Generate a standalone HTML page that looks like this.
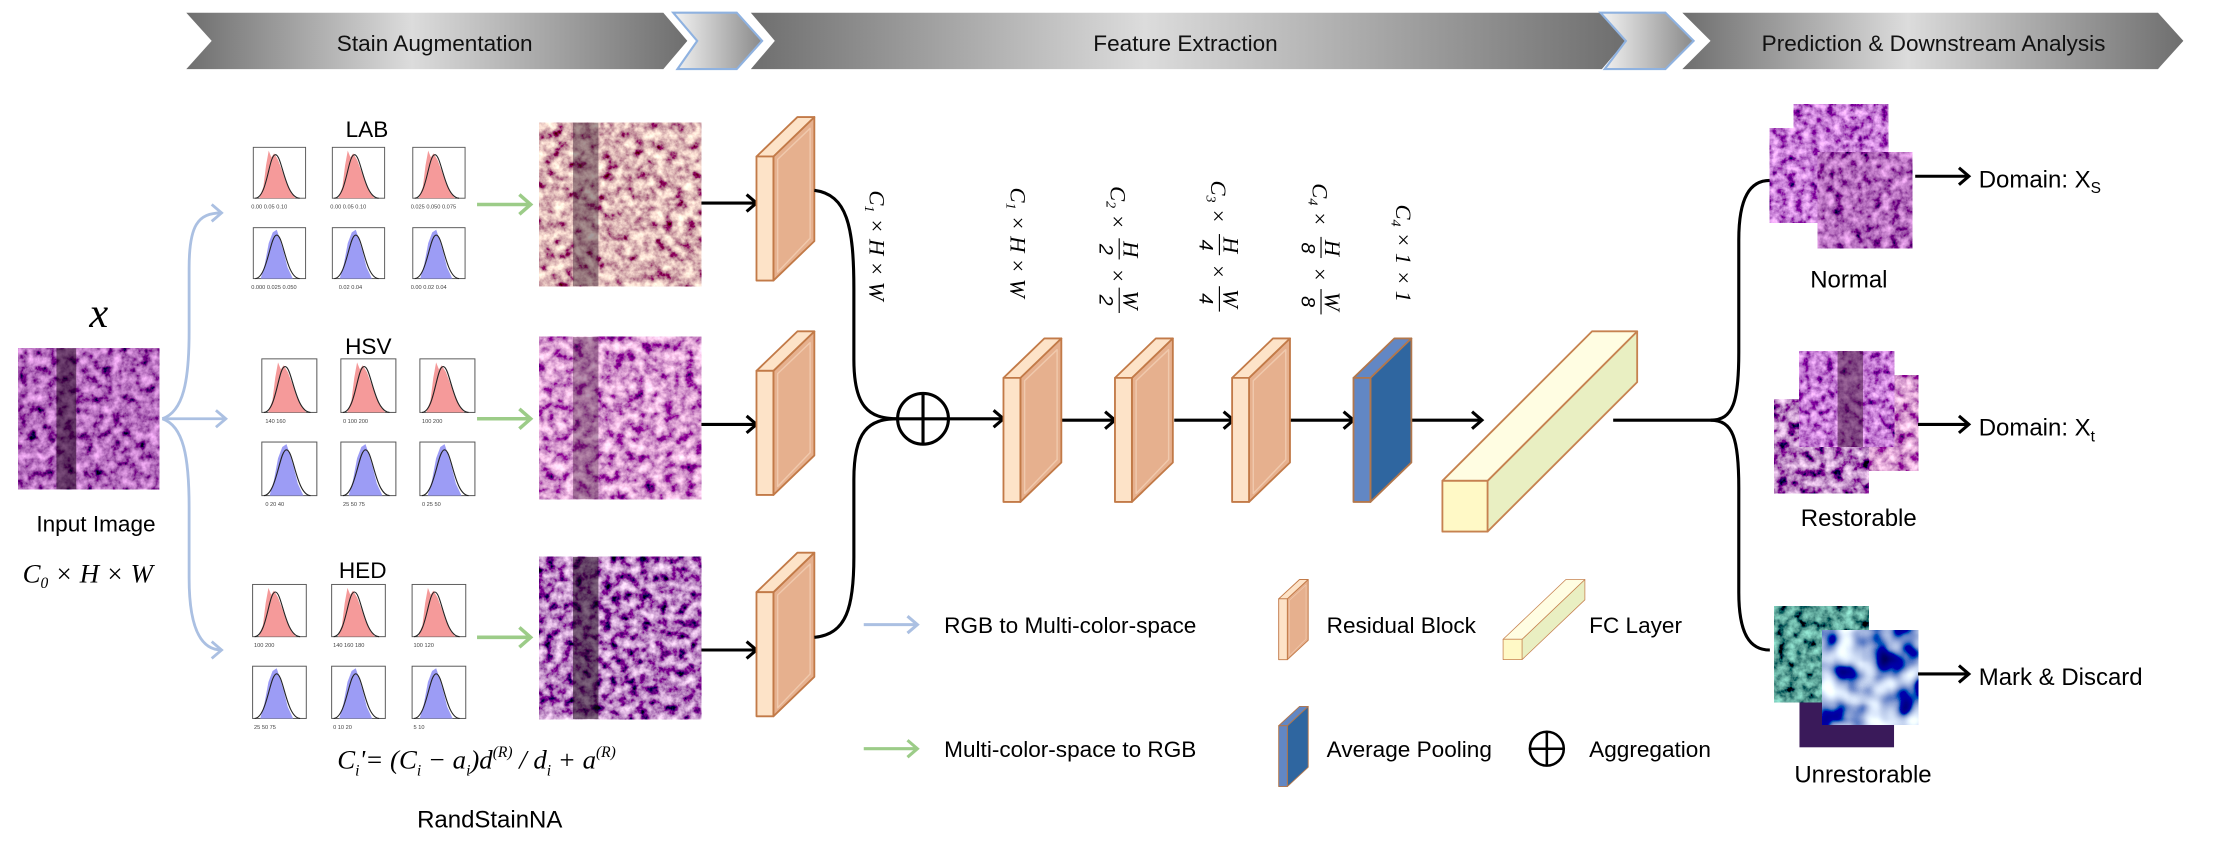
<!DOCTYPE html>
<html><head><meta charset="utf-8"><style>
html,body{margin:0;padding:0;background:#fff;}
svg{display:block;}
text{font-family:"Liberation Sans",sans-serif;}
.s{font-family:"Liberation Serif",serif;font-style:italic;}
</style></head><body>
<svg width="2213" height="846" viewBox="0 0 1568 600" preserveAspectRatio="none" xmlns="http://www.w3.org/2000/svg">
<defs>
<linearGradient id="bn" x1="0" x2="1" y1="0" y2="0">
<stop offset="0" stop-color="#6e6e6e"/><stop offset="0.45" stop-color="#dcdcdc"/><stop offset="1" stop-color="#6e6e6e"/></linearGradient>
<linearGradient id="sm" x1="0" x2="1"><stop offset="0" stop-color="#f4f4f4"/><stop offset="1" stop-color="#8a8a8a"/></linearGradient>
<filter id="tl" x="0" y="0" width="1" height="1"><feTurbulence type="fractalNoise" baseFrequency="0.14" numOctaves="4" seed="7"/>
<feColorMatrix type="matrix" values="1.8 0 0 0 -0.2  2.0 0 0 0 -0.55  1.4 0 0 0 -0.25  0 0 0 0 1"/></filter>
<filter id="tm" x="0" y="0" width="1" height="1"><feTurbulence type="fractalNoise" baseFrequency="0.14" numOctaves="4" seed="11"/>
<feColorMatrix type="matrix" values="1.8 0 0 0 -0.25  1.6 0 0 0 -0.5  1.4 0 0 0 -0.1  0 0 0 0 1"/></filter>
<filter id="td" x="0" y="0" width="1" height="1"><feTurbulence type="fractalNoise" baseFrequency="0.15" numOctaves="4" seed="5"/>
<feColorMatrix type="matrix" values="1.8 0 0 0 -0.45  1.7 0 0 0 -0.65  1.6 0 0 0 -0.3  0 0 0 0 1"/></filter>
<filter id="th" x="0" y="0" width="1" height="1"><feTurbulence type="fractalNoise" baseFrequency="0.15" numOctaves="4" seed="9"/>
<feColorMatrix type="matrix" values="1.5 0 0 0 -0.3  0.9 0 0 0 -0.3  1.4 0 0 0 -0.2  0 0 0 0 1"/></filter>
<filter id="tn" x="0" y="0" width="1" height="1"><feTurbulence type="fractalNoise" baseFrequency="0.18" numOctaves="4" seed="13"/>
<feColorMatrix type="matrix" values="1.6 0 0 0 -0.25  1.1 0 0 0 -0.35  1.5 0 0 0 -0.1  0 0 0 0 1"/></filter>
<filter id="tg" x="0" y="0" width="1" height="1"><feTurbulence type="fractalNoise" baseFrequency="0.15" numOctaves="4" seed="2"/>
<feColorMatrix type="matrix" values="0.6 0 0 0 -0.2  1.4 0 0 0 -0.35  1.1 0 0 0 -0.25  0 0 0 0 1"/></filter>
<filter id="tb" x="0" y="0" width="1" height="1"><feTurbulence type="fractalNoise" baseFrequency="0.05" numOctaves="2" seed="4"/>
<feColorMatrix type="matrix" values="3 0 0 0 -1.2  3 0 0 0 -1.1  2 0 0 0 -0.3  0 0 0 0 1"/></filter>
<symbol id="hr" viewBox="0 0 40 40"><rect x="0.5" y="0.5" width="39" height="38" fill="#fff" stroke="#555" stroke-width="0.7"/>
<path d="M5,38.5 L8,30 L10,14 L12,3 L14,8 L16,5 L19,10 L22,18 L25,27 L29,35 L32,38.5Z" fill="#f59a9a"/>
<path d="M2,38.5 C11,38 12,6 17,6 C22,6 24,38 35,38.5" fill="none" stroke="#222" stroke-width="0.8"/></symbol>
<symbol id="hb" viewBox="0 0 40 40"><rect x="0.5" y="0.5" width="39" height="38" fill="#fff" stroke="#555" stroke-width="0.7"/>
<path d="M6,38.5 L9,28 L12,12 L15,4 L18,2 L20,8 L23,18 L26,30 L30,38.5Z" fill="#9c9cf5"/>
<path d="M2,38.5 C11,38 13,6 18,6 C23,6 25,38 35,38.5" fill="none" stroke="#222" stroke-width="0.8"/></symbol>
<g id="rb" stroke="#c27a48" stroke-width="1.3" stroke-linejoin="round">
<polygon points="12,28 41,0 41,88 12,116" fill="#e6b08e"/>
<polygon points="15,30 38,8 38,86 15,110" fill="none" stroke="#f0c9ad" stroke-width="1"/>
<polygon points="0,28 12,28 41,0 29,0" fill="#fde3c8"/>
<rect x="0" y="28" width="12" height="88" fill="#fde3c8"/></g>
<g id="ab" stroke="#b2774c" stroke-width="1.3" stroke-linejoin="round">
<polygon points="12,28 41,0 41,88 12,116" fill="#2f66a0"/>
<polygon points="0,28 12,28 41,0 29,0" fill="#6287c4"/>
<rect x="0" y="28" width="12" height="88" fill="#6287c4"/></g>
<g id="fc" stroke="#c68250" stroke-width="1.3" stroke-linejoin="round">
<polygon points="32,106 138,0 138,36 32,142" fill="#e9efc2"/>
<polygon points="0,106 32,106 138,0 106,0" fill="#fffde2"/>
<rect x="0" y="106" width="32" height="36" fill="#fff9c6"/></g>
</defs>

<!-- banner -->
<polygon points="132,9 470,9 487,29 470,49 132,49 150,29" fill="url(#bn)"/>
<polygon points="477,9 522,9 540,29 522,49 480,49 494,29" fill="url(#sm)" stroke="#8fb2e0" stroke-width="1.5"/>
<polygon points="532,9 1135,9 1152,29 1135,49 532,49 549,29" fill="url(#bn)"/>
<polygon points="1134,9 1180,9 1200,29 1180,49 1137,49 1152,29" fill="url(#sm)" stroke="#8fb2e0" stroke-width="1.5"/>
<polygon points="1192,9 1529,9 1547,29 1529,49 1192,49 1212,29" fill="url(#bn)"/>
<text x="308" y="36" font-size="16" text-anchor="middle" fill="#111">Stain Augmentation</text>
<text x="840" y="36" font-size="16" text-anchor="middle" fill="#111">Feature Extraction</text>
<text x="1370" y="36" font-size="16" text-anchor="middle" fill="#111">Prediction &amp; Downstream Analysis</text>

<!-- input -->
<text x="70" y="232" class="s" font-size="30" text-anchor="middle">x</text>
<rect x="13" y="247" width="100" height="100" filter="url(#th)"/>
<rect x="40" y="247" width="14" height="100" fill="#1a0018" opacity="0.55"/>
<text x="68" y="377" font-size="16" text-anchor="middle">Input Image</text>
<text x="16" y="413" class="s" font-size="19">C<tspan font-size="11" dy="4">0</tspan><tspan dy="-4"> × H × W</tspan></text>

<!-- blue arrows -->
<g fill="none" stroke="#abc0e2" stroke-width="2">
<path d="M115,297 C130,292 134,270 134,235 L134,190 C134,160 140,151 157,151"/>
<path d="M115,297 L160,297"/>
<path d="M115,297 C130,302 134,324 134,360 L134,410 C134,440 140,461 157,461"/>
<polyline points="150,145 157,151 150,157"/><polyline points="153,291 160,297 153,303"/><polyline points="150,455 157,461 150,467"/>
</g>

<!-- histograms -->
<text x="260" y="97" font-size="16" text-anchor="middle">LAB</text>
<use href="#hr" x="178" y="104" width="40" height="38"/><use href="#hr" x="234" y="104" width="40" height="38"/><use href="#hr" x="291" y="104" width="40" height="38"/>
<use href="#hb" x="178" y="161" width="40" height="38"/><use href="#hb" x="234" y="161" width="40" height="38"/><use href="#hb" x="291" y="161" width="40" height="38"/>
<text x="261" y="251" font-size="16" text-anchor="middle">HSV</text>
<use href="#hr" x="185" y="254" width="40" height="40"/><use href="#hr" x="241" y="254" width="40" height="40"/><use href="#hr" x="297" y="254" width="40" height="40"/>
<use href="#hb" x="185" y="313" width="40" height="40"/><use href="#hb" x="241" y="313" width="40" height="40"/><use href="#hb" x="297" y="313" width="40" height="40"/>
<text x="257" y="410" font-size="16" text-anchor="middle">HED</text>
<use href="#hr" x="178" y="414" width="40" height="39"/><use href="#hr" x="234" y="414" width="40" height="39"/><use href="#hr" x="291" y="414" width="40" height="39"/>
<use href="#hb" x="178" y="472" width="40" height="39"/><use href="#hb" x="234" y="472" width="40" height="39"/><use href="#hb" x="291" y="472" width="40" height="39"/>
<g fill="#444" font-size="4">
<text x="178" y="148">0.00 0.05 0.10</text><text x="234" y="148">0.00 0.05 0.10</text><text x="291" y="148">0.025 0.050 0.075</text>
<text x="178" y="205">0.000 0.025 0.050</text><text x="240" y="205">0.02  0.04</text><text x="291" y="205">0.00 0.02 0.04</text>
<text x="188" y="300">140  160</text><text x="243" y="300">0 100 200</text><text x="299" y="300">100  200</text>
<text x="188" y="359">0  20  40</text><text x="243" y="359">25 50 75</text><text x="299" y="359">0 25 50</text>
<text x="180" y="459">100  200</text><text x="236" y="459">140 160 180</text><text x="293" y="459">100  120</text>
<text x="180" y="517">25  50  75</text><text x="236" y="517">0  10  20</text><text x="293" y="517">5  10</text>
</g>

<!-- green arrows -->
<g fill="none" stroke="#9ccc88" stroke-width="2.5">
<path d="M338,145 L376,145"/><polyline points="368,138 376,145 368,152"/>
<path d="M338,297 L376,297"/><polyline points="368,290 376,297 368,304"/>
<path d="M338,452 L376,452"/><polyline points="368,445 376,452 368,459"/>
</g>

<!-- augmented images -->
<rect x="382" y="87" width="115" height="116" filter="url(#tl)"/>
<rect x="406" y="87" width="18" height="116" fill="#3a2030" opacity="0.45"/>
<rect x="382" y="239" width="115" height="115" filter="url(#tm)"/>
<rect x="406" y="239" width="18" height="115" fill="#4a2040" opacity="0.4"/>
<rect x="382" y="395" width="115" height="115" filter="url(#td)"/>
<rect x="406" y="395" width="18" height="115" fill="#1a0818" opacity="0.55"/>

<!-- black arrows to blocks -->
<g fill="none" stroke="#000" stroke-width="2.2">
<path d="M497,144 L536,144"/><polyline points="529,138 536,144 529,150"/>
<path d="M497,301 L536,301"/><polyline points="529,295 536,301 529,307"/>
<path d="M497,461 L536,461"/><polyline points="529,455 536,461 529,467"/>
</g>
<use href="#rb" x="536" y="83"/><use href="#rb" x="536" y="235"/><use href="#rb" x="536" y="392"/>

<g fill="none" stroke="#000" stroke-width="2.2">
<path d="M577,135 C600,138 605,160 605,205 L605,255 C605,288 615,297 636,297"/>
<path d="M577,452 C600,450 605,430 605,395 L605,340 C605,306 615,297 636,297"/>
<circle cx="654" cy="297" r="18"/>
<path d="M636,297 L672,297 M654,279 L654,315"/>
<path d="M672,297 L711,297"/><polyline points="704,291 711,297 704,303"/>
<path d="M752,298 L790,298"/><polyline points="783,292 790,298 783,304"/>
<path d="M832,298 L874,298"/><polyline points="867,292 874,298 867,304"/>
<path d="M914,298 L959,298"/><polyline points="952,292 959,298 952,304"/>
<path d="M1000,298 L1050,298"/><polyline points="1043,292 1050,298 1043,304"/>
<path d="M1143,298 L1212,298"/>
<path d="M1212,298 C1228,298 1232,285 1232,250 L1232,170 C1232,140 1240,128 1254,128"/>
<path d="M1212,298 C1228,298 1232,311 1232,346 L1232,420 C1232,450 1240,461 1254,461"/>
</g>
<use href="#rb" x="711" y="240"/><use href="#rb" x="790" y="240"/><use href="#rb" x="873" y="240"/>
<use href="#ab" x="959" y="240"/>
<use href="#fc" x="1022" y="235"/>

<!-- dimension labels -->
<g font-size="16" class="s">
<g transform="translate(616,135) rotate(90)"><text class="s">C<tspan font-size="10" dy="3">1</tspan><tspan dy="-3"> × H × W</tspan></text></g>
<g transform="translate(716,133) rotate(90)"><text class="s">C<tspan font-size="10" dy="3">1</tspan><tspan dy="-3"> × H × W</tspan></text></g>
<g transform="translate(793,132) rotate(90)"><text class="s" y="6">C<tspan font-size="10" dy="3">2</tspan><tspan dy="-3"> ×</tspan></text>
<text class="s" x="39" y="-3">H</text><line x1="37" y1="0" x2="52" y2="0" stroke="#000" stroke-width="0.8"/><text x="41" y="14" font-family="Liberation Serif" font-size="14">2</text>
<text class="s" x="58" y="6">×</text>
<text class="s" x="74" y="-3">W</text><line x1="72" y1="0" x2="90" y2="0" stroke="#000" stroke-width="0.8"/><text x="77" y="14" font-family="Liberation Serif" font-size="14">2</text></g>
<g transform="translate(864,128) rotate(90)"><text class="s" y="6">C<tspan font-size="10" dy="3">3</tspan><tspan dy="-3"> ×</tspan></text>
<text class="s" x="40" y="-3">H</text><line x1="38" y1="0" x2="53" y2="0" stroke="#000" stroke-width="0.8"/><text x="42" y="14" font-family="Liberation Serif" font-size="14">4</text>
<text class="s" x="59" y="6">×</text>
<text class="s" x="77" y="-3">W</text><line x1="75" y1="0" x2="93" y2="0" stroke="#000" stroke-width="0.8"/><text x="80" y="14" font-family="Liberation Serif" font-size="14">4</text></g>
<g transform="translate(936,130) rotate(90)"><text class="s" y="6">C<tspan font-size="10" dy="3">4</tspan><tspan dy="-3"> ×</tspan></text>
<text class="s" x="40" y="-3">H</text><line x1="38" y1="0" x2="53" y2="0" stroke="#000" stroke-width="0.8"/><text x="42" y="14" font-family="Liberation Serif" font-size="14">8</text>
<text class="s" x="59" y="6">×</text>
<text class="s" x="77" y="-3">W</text><line x1="75" y1="0" x2="93" y2="0" stroke="#000" stroke-width="0.8"/><text x="80" y="14" font-family="Liberation Serif" font-size="14">8</text></g>
<g transform="translate(989,145) rotate(90)"><text class="s">C<tspan font-size="10" dy="3">4</tspan><tspan dy="-3"> × 1 × 1</tspan></text></g>
</g>

<!-- formula -->
<text x="239" y="545" class="s" font-size="19">C<tspan font-size="11" dy="5">i</tspan><tspan dy="-5">'= (C</tspan><tspan font-size="11" dy="5">i</tspan><tspan dy="-5"> − a</tspan><tspan font-size="11" dy="5">i</tspan><tspan dy="-5">)d</tspan><tspan font-size="11" dy="-8">(R)</tspan><tspan dy="8"> / d</tspan><tspan font-size="11" dy="5">i</tspan><tspan dy="-5"> + a</tspan><tspan font-size="11" dy="-8">(R)</tspan></text>
<text x="347" y="587" font-size="17" text-anchor="middle">RandStainNA</text>

<!-- legend -->
<g fill="none" stroke-width="2.2">
<path d="M612,443 L650,443" stroke="#abc0e2"/><polyline points="643,437 650,443 643,449" stroke="#abc0e2"/>
<path d="M612,531 L650,531" stroke="#9ccc88"/><polyline points="643,525 650,531 643,537" stroke="#9ccc88"/>
</g>
<g font-size="16">
<text x="669" y="449">RGB to Multi-color-space</text>
<text x="669" y="537">Multi-color-space to RGB</text>
<text x="940" y="449">Residual Block</text>
<text x="1126" y="449">FC Layer</text>
<text x="940" y="537">Average Pooling</text>
<text x="1126" y="537">Aggregation</text>
</g>
<g transform="translate(906,411) scale(0.51,0.49)"><use href="#rb"/></g>
<g transform="translate(906,501) scale(0.51,0.49)"><use href="#ab"/></g>
<g transform="translate(1065,411) scale(0.42,0.4)"><use href="#fc"/></g>
<g fill="none" stroke="#000" stroke-width="1.8"><circle cx="1096" cy="531" r="12"/><path d="M1084,531 L1108,531 M1096,519 L1096,543"/></g>

<!-- right outputs -->
<rect x="1271" y="74" width="67" height="70" filter="url(#tn)"/>
<rect x="1254" y="91" width="68" height="67" filter="url(#tn)"/>
<rect x="1288" y="108" width="67" height="68" filter="url(#th)"/>
<rect x="1291" y="266" width="68" height="68" filter="url(#tm)"/>
<rect x="1257" y="283" width="67" height="67" filter="url(#td)"/>
<rect x="1275" y="249" width="67" height="68" filter="url(#tn)"/>
<rect x="1302" y="249" width="18" height="68" fill="#3a1030" opacity="0.5"/>
<rect x="1275" y="464" width="67" height="66" fill="#3a1a5a"/>
<rect x="1257" y="430" width="67" height="68" filter="url(#tg)"/>
<rect x="1291" y="447" width="68" height="67" filter="url(#tb)"/>
<g fill="none" stroke="#000" stroke-width="2.2">
<path d="M1357,125 L1395,125"/><polyline points="1388,119 1395,125 1388,131"/>
<path d="M1359,301 L1395,301"/><polyline points="1388,295 1395,301 1388,307"/>
<path d="M1359,478 L1395,478"/><polyline points="1388,472 1395,478 1388,484"/>
</g>
<g font-size="17">
<text x="1402" y="133">Domain: X<tspan font-size="11" dy="4">S</tspan></text>
<text x="1402" y="309">Domain: X<tspan font-size="11" dy="4">t</tspan></text>
<text x="1402" y="486">Mark &amp; Discard</text>
<text x="1310" y="204" text-anchor="middle">Normal</text>
<text x="1317" y="373" text-anchor="middle">Restorable</text>
<text x="1320" y="555" text-anchor="middle">Unrestorable</text>
</g>
</svg>
</body></html>
